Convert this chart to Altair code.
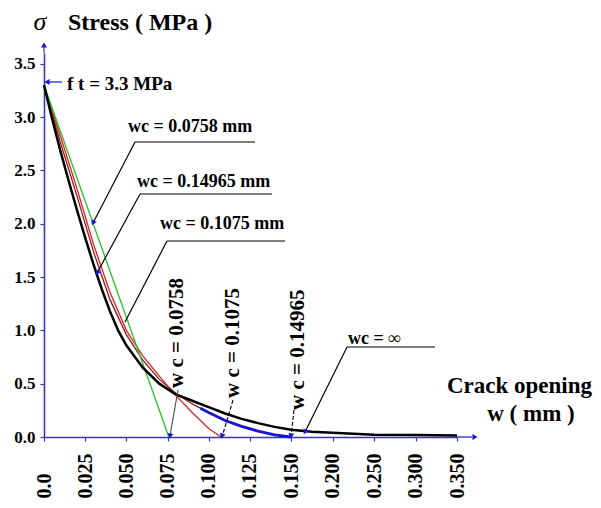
import math
import altair as alt
import pandas as pd

# ---------------- data ----------------
# wc = infinity (black, exponential-like)
w_black = [0.0, 0.005, 0.01, 0.015, 0.02, 0.025, 0.03, 0.035, 0.04, 0.045, 0.05, 0.06, 0.07,
           0.08, 0.09, 0.10, 0.11, 0.12, 0.13, 0.14, 0.15, 0.175, 0.2, 0.225, 0.25, 0.3, 0.35]
s_black = [3.30, 2.98, 2.68, 2.40, 2.13, 1.87, 1.62, 1.39, 1.18, 1.00, 0.86, 0.65, 0.50,
           0.40, 0.34, 0.28, 0.22, 0.17, 0.13, 0.095, 0.068, 0.05, 0.04, 0.03, 0.022, 0.018, 0.015]

# wc = 0.14965 mm (dark red, blue tail)
w_darkred = [0.0, 0.01, 0.02, 0.03, 0.04, 0.05, 0.06, 0.07, 0.08, 0.09, 0.095,
             0.10, 0.11, 0.12, 0.13, 0.14, 0.14965]
s_darkred = [3.30, 2.76, 2.26, 1.74, 1.29, 0.96, 0.72, 0.54, 0.41, 0.31, 0.27,
             0.23, 0.155, 0.10, 0.055, 0.02, 0.0]
w_blue = [0.095, 0.10, 0.11, 0.12, 0.13, 0.14, 0.14965]
s_blue = [0.27, 0.23, 0.155, 0.10, 0.055, 0.02, 0.0]

# wc = 0.1075 mm (red)
w_red = [0.0, 0.01, 0.02, 0.03, 0.04, 0.05, 0.06, 0.07, 0.08, 0.09, 0.10, 0.1075]
s_red = [3.30, 2.82, 2.33, 1.81, 1.36, 1.00, 0.76, 0.57, 0.39, 0.23, 0.08, 0.0]

# wc = 0.0758 mm (green, linear)
w_green = [0.0, 0.0758]
s_green = [3.3, 0.0]

x_ticks = [0.0, 0.025, 0.05, 0.075, 0.1, 0.125, 0.15, 0.2, 0.25, 0.3, 0.35]
y_ticks = [0.0, 0.5, 1.0, 1.5, 2.0, 2.5, 3.0, 3.5]

thin_names = ["wc = 0.14965", "wc = 0.1075", "wc = 0.0758"]
thin_colors = ["#8E1B1B", "#E3202B", "#22C32A"]

AX = "#3A3AA6"
BLUE = "#1414D2"
FONT = "Liberation Serif"


def frame(name, ws, ss):
    return pd.DataFrame({"w": ws, "s": ss, "curve": name})


thin = pd.concat([frame(thin_names[0], w_darkred, s_darkred),
                  frame(thin_names[1], w_red, s_red),
                  frame(thin_names[2], w_green, s_green)])
black = frame("wc = inf", w_black, s_black)
blue = frame("tail", w_blue, s_blue)

X_SCALE = alt.Scale(domain=[0, 0.15, 0.35], range=[0, 247, 413], nice=False)
Y_SCALE = alt.Scale(domain=[0, 3.6], nice=False)

x_axis = alt.Axis(values=x_ticks,
                  labelExpr="datum.value == 0 ? '0.0' : format(datum.value, '.3f')",
                  labelAngle=270, labelAlign="left", labelBaseline="middle",
                  labelPadding=57, tickSize=4, labelFont=FONT, labelFontWeight="bold",
                  labelFontSize=20, labelColor="black", domainColor=AX, tickColor=AX,
                  domainWidth=1.6, tickWidth=1.2, grid=False, title=None,
                  labelOverlap=False, labelFlush=False)
y_axis = alt.Axis(values=y_ticks, format=".1f", labelPadding=5, tickSize=4,
                  labelFont=FONT, labelFontWeight="bold", labelFontSize=17,
                  labelColor="black", domainColor=AX, tickColor=AX, domainWidth=1.6,
                  tickWidth=1.2, grid=False, title=None, labelOverlap=False,
                  labelFlush=False)

thin_layer = alt.Chart(thin).mark_line(strokeWidth=1.3).encode(
    x=alt.X("w:Q", scale=X_SCALE, axis=x_axis),
    y=alt.Y("s:Q", scale=Y_SCALE, axis=y_axis),
    color=alt.Color("curve:N", scale=alt.Scale(domain=thin_names, range=thin_colors),
                    legend=None),
)
black_layer = alt.Chart(black).mark_line(strokeWidth=2.5, color="black").encode(
    x=alt.X("w:Q", scale=X_SCALE), y=alt.Y("s:Q", scale=Y_SCALE))
blue_layer = alt.Chart(blue).mark_line(strokeWidth=2.8, color=BLUE).encode(
    x=alt.X("w:Q", scale=X_SCALE), y=alt.Y("s:Q", scale=Y_SCALE))

# ---------------- annotations (pixel positions in the plot area) ----------------
solid_lines = pd.DataFrame([
    # x1, y1, x2, y2, colour
    (18, 29, 4, 29, BLUE),
    (91, 89, 211, 89, "black"), (91, 89, 49, 170, "black"),
    (96, 141, 228, 141, "black"), (96, 141, 53, 220, "black"),
    (123, 188, 241, 188, "black"), (123, 188, 81, 269, "black"),
    (134, 337, 126, 383, "#555555"),
    (303, 294, 391, 294, "black"), (303, 294, 261, 379, "black"),
    (413, 384, 428, 384, BLUE), (0, 0, 0, -6, AX),
], columns=["x1", "y1", "x2", "y2", "c"])
dashed_lines = pd.DataFrame([(189, 347, 178, 384), (250, 357, 247, 384)],
                            columns=["x1", "y1", "x2", "y2"])

heads = []
for x1, y1, x2, y2 in [(18, 29, 3, 29), (91, 89, 49, 170), (96, 141, 53, 220),
                       (134, 337, 126, 383), (303, 294, 261, 379),
                       (189, 347, 178, 383), (250, 357, 247, 383),
                       (413, 384, 431, 384), (0, 0, 0, -8)]:
    ang = math.degrees(math.atan2(x2 - x1, -(y2 - y1))) % 360
    heads.append((x2, y2, ang))
heads = pd.DataFrame(heads, columns=["x", "y", "ang"])

rule_solid = alt.Chart(solid_lines).mark_rule(strokeWidth=1.2).encode(
    x=alt.X("x1:Q", scale=None), y=alt.Y("y1:Q", scale=None),
    x2="x2:Q", y2="y2:Q", color=alt.Color("c:N", scale=None))
rule_dashed = alt.Chart(dashed_lines).mark_rule(strokeWidth=1.1, strokeDash=[4, 2],
                                               color="black").encode(
    x=alt.X("x1:Q", scale=None), y=alt.Y("y1:Q", scale=None), x2="x2:Q", y2="y2:Q")
head_layer = alt.Chart(heads).mark_point(shape="triangle-up", filled=True, size=35,
                                          color=BLUE, opacity=1).encode(
    x=alt.X("x:Q", scale=None), y=alt.Y("y:Q", scale=None),
    angle=alt.Angle("ang:Q", scale=None))


def text_layer(rows, **kw):
    df = pd.DataFrame(rows, columns=["x", "y", "t"])
    props = {"font": FONT, "fontWeight": "bold", "color": "black"}
    props.update(kw)
    return alt.Chart(df).mark_text(**props).encode(
        x=alt.X("x:Q", scale=None), y=alt.Y("y:Q", scale=None), text="t:N")


sigma = text_layer([(-4, -23, "σ")], fontSize=26, align="center", baseline="alphabetic",
                   fontStyle="italic", fontWeight="normal")
left_texts = text_layer([(24, -23, "Stress ( MPa )")], fontSize=24, align="left",
                        baseline="alphabetic")
ft_text = text_layer([(23, 37, "f t = 3.3 MPa")], fontSize=19, align="left",
                     baseline="alphabetic")
wc_texts = text_layer([(84, 79, "wc = 0.0758 mm"), (93, 134, "wc = 0.14965 mm"),
                       (116, 176, "wc = 0.1075 mm"), (304, 291, "wc = ∞")],
                      fontSize=18, align="left", baseline="alphabetic")
rot_texts = text_layer([(133, 335, "w c = 0.0758"), (189, 345, "w c = 0.1075"),
                        (254, 357, "w c = 0.14965")],
                       fontSize=21, align="left", baseline="middle", angle=270)
crack = text_layer([(548, 340, "Crack opening")], fontSize=23, align="right",
                   baseline="alphabetic")
wmm = text_layer([(487, 368, "w ( mm )")], fontSize=23, align="center",
                 baseline="alphabetic")

chart = alt.layer(
    thin_layer, black_layer, blue_layer, rule_solid, rule_dashed, head_layer,
    sigma, left_texts, ft_text, wc_texts, rot_texts, crack, wmm,
).properties(
    width=549, height=384,
    autosize=alt.AutoSizeParams(type="none"),
    padding={"left": 36, "top": 45, "right": 0, "bottom": 63},
    background="white",
).configure_view(strokeOpacity=0)

chart.save("out.html", embed_options={"renderer": "svg", "actions": False})
